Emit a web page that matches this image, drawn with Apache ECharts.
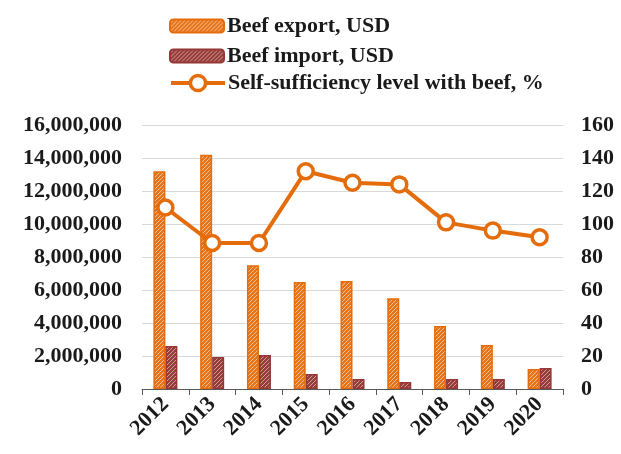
<!DOCTYPE html>
<html>
<head>
<meta charset="utf-8">
<script src="https://cdn.jsdelivr.net/npm/echarts@6/dist/echarts.min.js"></script>
<style>
html,body{margin:0;padding:0;background:#fff;}
#chart{width:621px;height:454px;}
</style>
</head>
<body>
<div id="chart"></div>
<script>
var years = ['2012','2013','2014','2015','2016','2017','2018','2019','2020'];
var beefExport = [13200000, 14200000, 7500000, 6480000, 6550000, 5500000, 3820000, 2670000, 1210000];
var beefImport = [2600000, 1940000, 2060000, 910000, 600000, 420000, 600000, 600000, 1270000];
var selfSufficiency = [110, 88.5, 88.5, 132, 125, 124, 101, 96, 92];
var leftTicks = {min: 0, max: 16000000, interval: 2000000};
var rightTicks = {min: 0, max: 160, interval: 20};
var seriesNames = ['Beef export, USD', 'Beef import, USD', 'Self-sufficiency level with beef, %'];

function makePattern(bg, line) {
  var c = document.createElement('canvas');
  c.width = 4; c.height = 4;
  var g = c.getContext('2d');
  g.fillStyle = bg; g.fillRect(0, 0, 4, 4);
  g.strokeStyle = line; g.lineWidth = 1.0;
  g.beginPath();
  g.moveTo(-1, 5); g.lineTo(5, -1);
  g.moveTo(-1, 1); g.lineTo(1, -1);
  g.moveTo(3, 5); g.lineTo(5, 3);
  g.stroke();
  return {image: c, repeat: 'repeat'};
}

var ORANGE = '#E46C0A';
var DARKRED = '#953735';
var font = "'Liberation Serif','Times New Roman',serif";
var legendText = {fontFamily: font, fontWeight: 'bold', fontSize: 22, color: '#1a1a1a', padding: [0,0,0,-2]};

var chart = echarts.init(document.getElementById('chart'), null, {renderer: 'canvas'});
chart.setOption({
  animation: false,
  backgroundColor: '#fff',
  grid: {left: 142, right: 58, top: 125, bottom: 65, containLabel: false},
  legend: [{
    orient: 'vertical', left: 169, top: 15, padding: 0,
    itemWidth: 54, itemHeight: 13, itemGap: 8,
    textStyle: legendText,
    data: [seriesNames[0], seriesNames[1]]
  }, {
    orient: 'vertical', left: 169, top: 72, padding: 0,
    itemWidth: 54, itemHeight: 19,
    lineStyle: {width: 4},
    itemStyle: {borderWidth: 3.5},
    textStyle: legendText,
    data: [seriesNames[2]]
  }],
  xAxis: {
    type: 'category', data: years,
    axisLine: {lineStyle: {color: '#595959', width: 1}},
    axisTick: {show: true, length: 6, lineStyle: {color: '#595959'}},
    axisLabel: {rotate: 45, margin: 12, fontFamily: font, fontWeight: 'bold', fontSize: 22, color: '#1a1a1a'}
  },
  yAxis: [{
    type: 'value', min: leftTicks.min, max: leftTicks.max, interval: leftTicks.interval,
    axisLine: {show: false}, axisTick: {show: false},
    splitLine: {lineStyle: {color: '#D9D9D9', width: 1}},
    axisLabel: {margin: 20, fontFamily: font, fontWeight: 'bold', fontSize: 22, color: '#1a1a1a',
      formatter: function(v){ return v.toString().replace(/\B(?=(\d{3})+(?!\d))/g, ','); }}
  }, {
    type: 'value', min: rightTicks.min, max: rightTicks.max, interval: rightTicks.interval,
    position: 'right',
    axisLine: {show: false}, axisTick: {show: false}, splitLine: {show: false},
    axisLabel: {margin: 18, fontFamily: font, fontWeight: 'bold', fontSize: 22, color: '#1a1a1a'}
  }],
  series: [{
    name: seriesNames[0], type: 'bar', data: beefExport,
    barWidth: 12, barGap: '0%',
    itemStyle: {color: makePattern('#E8741A', 'rgba(255,255,255,0.55)'), borderColor: ORANGE, borderWidth: 1.5}
  }, {
    name: seriesNames[1], type: 'bar', data: beefImport,
    barWidth: 12,
    itemStyle: {color: makePattern('#983C3A', 'rgba(255,255,255,0.5)'), borderColor: DARKRED, borderWidth: 1.5}
  }, {
    name: seriesNames[2], type: 'line', yAxisIndex: 1, data: selfSufficiency,
    symbol: 'circle', symbolSize: 15,
    lineStyle: {color: ORANGE, width: 4},
    itemStyle: {color: '#fff', borderColor: ORANGE, borderWidth: 3.5}
  }]
});
</script>
</body>
</html>
